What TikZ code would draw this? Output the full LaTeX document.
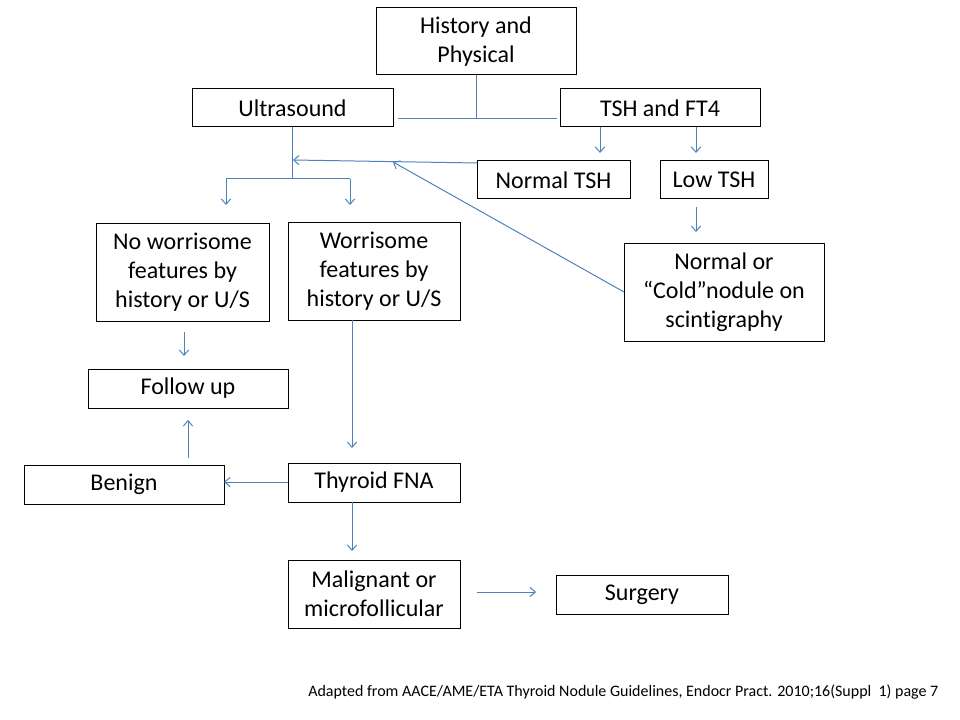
\documentclass[tikz,border=0pt]{standalone}
\usepackage{fontspec}
\setmainfont{Carlito}[Ligatures=NoCommon]
\usetikzlibrary{arrows.meta}
\definecolor{lineblue}{RGB}{79,129,189}
\begin{document}
\begin{tikzpicture}[x=0.75pt,y=-0.75pt,
  box/.style={draw=black, line width=0.75pt, align=center, inner sep=0pt,
    font=\fontsize{18}{21.75}\selectfont},
  ln/.style={draw=lineblue, line width=0.75pt},
  arr/.style={ln, -{Straight Barb[length=4pt,width=7pt]}}]
\useasboundingbox (0,0) rectangle (960,720);
% boxes
\node[box, minimum width=150pt, minimum height=50.25pt] (hp) at (476,41.5) {History and\\Physical};
\node[box, minimum width=150.75pt, minimum height=28.5pt] (us) at (292.5,108) {Ultrasound};
\node[box, minimum width=150pt, minimum height=28.5pt] (tsh) at (660,108) {TSH and FT4};
\node[box, minimum width=114.75pt, minimum height=28.5pt] (ntsh) at (553.5,180) {Normal TSH};
\node[box, minimum width=81pt, minimum height=28.5pt] (ltsh) at (714,180) {Low TSH};
\node[box, minimum width=129.75pt, minimum height=72.75pt] (nw) at (182.5,272.5) {No worrisome\\features by\\history or U/S};
\node[box, minimum width=129pt, minimum height=72.75pt] (w) at (374,271.5) {Worrisome\\features by\\history or U/S};
\node[box, minimum width=150pt, minimum height=72.75pt] (cold) at (724,292.5) {Normal or\\“Cold”nodule on\\scintigraphy};
\node[box, minimum width=150pt, minimum height=29.25pt] (fu) at (188,388.5) {Follow up};
\node[box, minimum width=150pt, minimum height=29.25pt] (ben) at (124,484.5) {Benign};
\node[box, minimum width=129pt, minimum height=29.25pt] (fna) at (374,482.5) {Thyroid FNA};
\node[box, minimum width=129pt, minimum height=51pt] (mal) at (374,594) {Malignant or\\microfollicular};
\node[box, minimum width=129pt, minimum height=29.25pt] (sur) at (642,594.5) {Surgery};
\node[anchor=west, inner sep=0pt, font=\fontsize{12}{14}\selectfont] (note) at (308,692)
  {Adapted from AACE/AME/ETA Thyroid Nodule Guidelines, Endocr Pract. 2010;16(Suppl\ \ 1) page 7};
% junction coordinates
\coordinate (j1) at (476,119);
\coordinate (jL) at (398,119);
\coordinate (jR) at (557,119);
\coordinate (t1) at (600,127);
\coordinate (t1e) at (600,153);
\coordinate (t2) at (696,127);
\coordinate (t2e) at (696,153);
\coordinate (u1) at (292,127);
\coordinate (u2) at (292,179);
\coordinate (uL) at (226,179);
\coordinate (uLe) at (226,205);
\coordinate (uR) at (350,179);
\coordinate (uRe) at (350,205);
\coordinate (n1) at (477,163);
\coordinate (n1e) at (293,160);
\coordinate (c1) at (624,292);
\coordinate (c1e) at (393,162);
\coordinate (l1) at (696,207);
\coordinate (l1e) at (696,232);
\coordinate (f1) at (184,332);
\coordinate (f1e) at (184,356);
\coordinate (w1) at (352,320);
\coordinate (w1e) at (352,448);
\coordinate (b1) at (188,458);
\coordinate (b1e) at (188,420);
\coordinate (e1) at (288,482);
\coordinate (e1e) at (224,482);
\coordinate (a1) at (352,502);
\coordinate (a1e) at (352,551);
\coordinate (m1) at (477,592);
\coordinate (m1e) at (536,592);
% connectors
\draw[ln] (hp.south) -- (j1);
\draw[ln] (jL) -- (jR);
\draw[arr] (t1) -- (t1e);
\draw[arr] (t2) -- (t2e);
\draw[ln] (u1) -- (u2);
\draw[ln] (uL) -- (uR);
\draw[arr] (uL) -- (uLe);
\draw[arr] (uR) -- (uRe);
\draw[arr] (n1) -- (n1e);
\draw[arr] (c1) -- (c1e);
\draw[arr] (l1) -- (l1e);
\draw[arr] (f1) -- (f1e);
\draw[arr] (w1) -- (w1e);
\draw[arr] (b1) -- (b1e);
\draw[arr] (e1) -- (e1e);
\draw[arr] (a1) -- (a1e);
\draw[arr] (m1) -- (m1e);
\end{tikzpicture}
\end{document}
